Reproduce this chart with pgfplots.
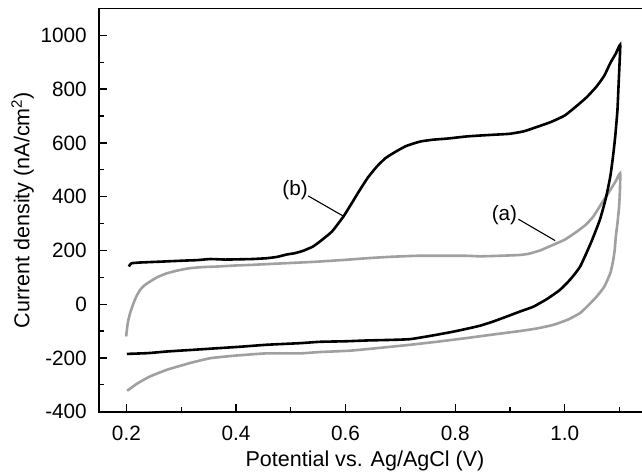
\documentclass[border=0pt]{standalone}
\usepackage{fontspec}
\setmainfont{Liberation Sans}
\usepackage{pgfplots}
\pgfplotsset{compat=1.18}
\definecolor{curvegray}{RGB}{160,160,160}
\begin{document}
\begin{tikzpicture}
\begin{axis}[
  name=ax,
  scale only axis,
  width=548bp, height=403.2bp,
  xmin=0.15, xmax=1.15,
  ymin=-400, ymax=1100,
  xtick={0.2,0.4,0.6,0.8,1.0},
  xticklabels={0.2,0.4,0.6,0.8,1.0},
  minor xtick={0.3,0.5,0.7,0.9,1.1},
  ytick={-400,-200,0,200,400,600,800,1000},
  minor ytick={-300,-100,100,300,500,700,900},
  xtick pos=bottom, ytick pos=left,
  tick align=inside,
  major tick length=8bp, minor tick length=5bp,
  every tick/.style={black, line width=1.3bp},
  axis line style={line width=1.8bp},
  /pgf/number format/assume math mode=true,
  /pgf/number format/1000 sep={},
  tick label style={font=\fontsize{20.8}{24}\selectfont},
  yticklabel style={xshift=-8.7bp},
  xticklabel style={yshift=-10.8bp},
  label style={font=\fontsize{21.6}{25}\selectfont},
  xlabel={Potential vs. Ag/AgCl (V)},
  ylabel={Current density (nA/cm\textsuperscript{2})},
  xlabel style={at={(axis description cs:0.4853,0)}, anchor=base, yshift=-55bp},
  ylabel style={at={(axis description cs:0,0.5)}, anchor=base, yshift=69.7bp},
]
% (a) gray curve
\addplot[curvegray, line width=2.6bp, smooth, tension=0.3] coordinates {
(0.1995,-120)(0.2025,-70)(0.2068,-33)(0.213,4)(0.218,28)(0.225,53)(0.233,70)(0.243,84)(0.256,100)(0.274,115)(0.295,126)(0.316,134)(0.34,138)(0.365,140)(0.4,144)(0.4257,146)(0.456,149)(0.4865,152)(0.517,155)(0.547,158)(0.6,165)(0.639,171)(0.68,176)(0.730,180)(0.78,180)(0.821,180)(0.8455,178)(0.88,180)(0.918,183)(0.935,188)(0.955,200)(0.979,221)(1.0,240)(1.022,270)(1.038,295)(1.052,326)(1.0675,376)(1.083,425)(1.093,458)(1.101,487)
(1.1005,420)(1.099,360)(1.096,300)(1.093,250)(1.091,200)(1.088,160)(1.083,115)(1.072,65)(1.058,28)(1.045,0)(1.028,-33)(1.005,-58)(0.979,-77)(0.95,-90)(0.918,-100)(0.88,-110)(0.85,-118)(0.821,-126)(0.77,-139)(0.718,-151)(0.66,-163)(0.608,-173)(0.553,-178)(0.517,-183)(0.456,-183)(0.42,-188)(0.395,-192)(0.353,-201)(0.316,-219)(0.274,-244)(0.243,-269)(0.22,-295)(0.2014,-322)
};
% (b) black curve
\addplot[black, line width=2.6bp, smooth, tension=0.3] coordinates {
(0.2045,140)(0.209,152)(0.225,155)(0.26,158)(0.304,162)(0.33,164)(0.353,168)(0.38,166)(0.4075,167)(0.43,168)(0.456,171)(0.475,176)(0.493,185)(0.508,190)(0.523,199)(0.54,214)(0.553,233)(0.575,270)(0.596,326)(0.611,375)(0.626,425)(0.641,472)(0.657,512)(0.672,542)(0.687,562)(0.71,588)(0.736,605)(0.76,612)(0.785,616)(0.821,624)(0.85,628)(0.876,631)(0.9,634)(0.925,643)(0.95,660)(0.975,678)(1.0,702)(1.022,738)(1.04,770)(1.058,810)(1.072,850)(1.083,897)(1.093,932)(1.101,965)
(1.1,900)(1.098,810)(1.096,720)(1.092,624)(1.088,550)(1.083,475)(1.075,395)(1.064,314)(1.048,230)(1.028,140)(1.01,92)(0.991,53)(0.968,20)(0.943,-9)(0.918,-27.5)(0.894,-46)(0.87,-64)(0.8455,-80)(0.82,-92)(0.797,-102)(0.76,-116)(0.718,-130)(0.68,-133)(0.639,-135)(0.6,-138)(0.553,-140)(0.517,-145)(0.456,-151)(0.41,-158)(0.365,-164)(0.32,-170)(0.274,-176)(0.24,-182)(0.2007,-185)
};
% leader lines
\addplot[black, line width=1.1bp] coordinates {(0.5316,402.9)(0.5973,325.9)};
\addplot[black, line width=1.1bp] coordinates {(0.9153,316.2)(0.9823,236.6)};
\node[font=\fontsize{20.8}{24}\selectfont, inner sep=0pt] at (axis cs:0.5078,425.2) {(b)};
\node[font=\fontsize{20.8}{24}\selectfont, inner sep=0pt] at (axis cs:0.8898,332.2) {(a)};
\end{axis}
\pgfresetboundingbox
\path[use as bounding box] ([xshift=-99bp,yshift=-60.3bp]ax.south west) rectangle ([xshift=543bp,yshift=411.7bp]ax.south west);
\end{tikzpicture}
\end{document}
